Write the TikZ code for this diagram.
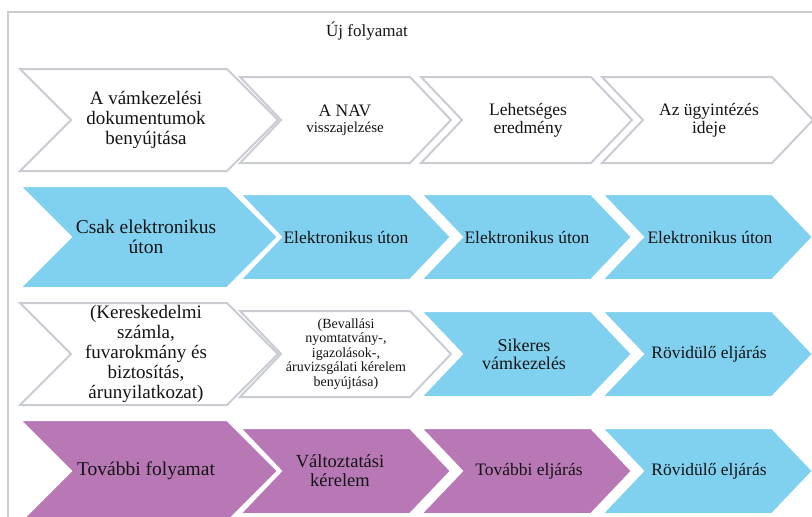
\documentclass[tikz,border=0pt]{standalone}
\usepackage{fontspec}
\setmainfont{Liberation Serif}
\definecolor{chevgray}{HTML}{C9CCD3}
\definecolor{chevblue}{HTML}{80D0F0}
\definecolor{chevpurple}{HTML}{B878B6}
\definecolor{framegray}{HTML}{CCCCCC}
\definecolor{txtdark}{HTML}{141414}

\begin{document}
\begin{tikzpicture}[x=1pt,y=-1pt,
    plainchev/.style={draw=chevgray,fill=white,line width=2pt},
    bluechev/.style={draw=white,fill=chevblue,line width=2pt},
    purplechev/.style={draw=white,fill=chevpurple,line width=2pt},
    lbl/.style={align=center,text=txtdark,inner sep=0pt}]
    \clip (0,0) rectangle (812,517);
    \draw[framegray,line width=1.5pt] (8,517) -- (8,12) -- (812,12);
    \node[lbl,font=\fontsize{17}{19}\selectfont] (title) at (367,31) {Új folyamat};

    % first column: the larger chevrons
    \foreach \y/\s/\f/\b/\i/\t in {120/plainchev/19/20/a/{A vámkezelési\\dokumentumok\\benyújtása},
        237/bluechev/19.5/20/b/{Csak elektronikus\\úton},
        354/plainchev/19/20/c/{(Kereskedelmi\\számla,\\fuvarokmány és\\biztosítás,\\árunyilatkozat)},
        471/purplechev/19.5/20/d/{További folyamat}} {
        \draw[\s] (20,\y-51) -- (227,\y-51) -- (278,\y) -- (227,\y+51) -- (20,\y+51) -- (71,\y) -- cycle;
        \node[lbl,font=\fontsize{\f}{\b}\selectfont] (big\i) at (146,\y) {\t};}

    % the other three columns
    \foreach \x/\y/\s/\f/\b/\tx/\i/\t in {240/120/plainchev/15/16/345/a1/{{\fontsize{17.5}{17}\selectfont A NAV}\\visszajelzése},
        421/120/plainchev/17.5/18/528/a2/{Lehetséges\\eredmény},
        602/120/plainchev/17.5/18/709/a3/{Az ügyintézés\\ideje},
        240/237/bluechev/17.5/18/346/b1/{Elektronikus úton},
        421/237/bluechev/17.5/18/527/b2/{Elektronikus úton},
        602/237/bluechev/17.5/18/710/b3/{Elektronikus úton},
        240/354/plainchev/14/14.5/346/c1/{(Bevallási\\nyomtatvány-,\\igazolások-,\\áruvizsgálati kérelem\\benyújtása)},
        421/354/bluechev/18/18/524/c2/{Sikeres\\vámkezelés},
        602/354/bluechev/17.5/18/709/c3/{Rövidülő eljárás},
        240/471/purplechev/18.5/19/340/d1/{Változtatási\\kérelem},
        421/471/purplechev/17.5/18/529/d2/{További eljárás},
        602/471/bluechev/17.5/18/709/d3/{Rövidülő eljárás}} {
        \draw[\s] (\x,\y-43) -- (\x+170,\y-43) -- (\x+211,\y) -- (\x+170,\y+43) -- (\x,\y+43) -- (\x+41,\y) -- cycle;
        \node[lbl,font=\fontsize{\f}{\b}\selectfont] (step\i) at (\tx,\y) {\t};}
\end{tikzpicture}
\end{document}
